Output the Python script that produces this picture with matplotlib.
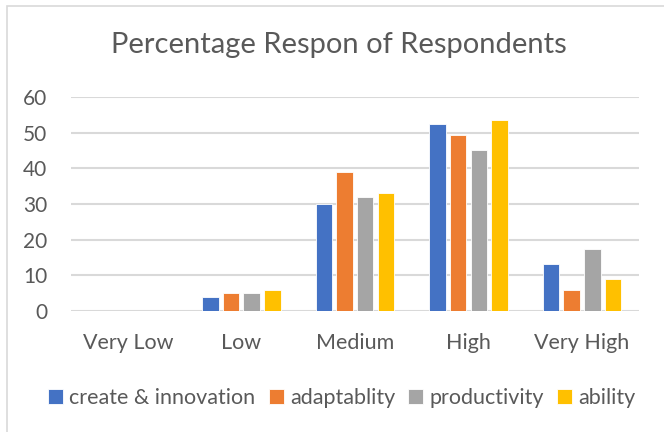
"""Grouped bar chart: percentage response of respondents."""

import matplotlib

matplotlib.use("Agg")
import matplotlib.pyplot as plt
import numpy as np
from matplotlib.patches import Rectangle

categories = ["Very Low", "Low", "Medium", "High", "Very High"]
series_names = ["create & innovation", "adaptablity", "productivity", "ability"]
create_innovation = [0, 4, 30, 52.5, 13.2]
adaptablity = [0, 5, 39, 49.3, 6]
productivity = [0, 5, 32, 45.2, 17.3]
ability = [0, 6, 33, 53.6, 9]
y_ticks = [0, 10, 20, 30, 40, 50, 60]

COLORS = ["#4472c4", "#ed7d31", "#a5a5a5", "#ffc000"]
TEXT = "#595959"

plt.rcParams["font.family"] = ["Lato", "DejaVu Sans"]

fig = plt.figure(figsize=(6.64, 4.32), dpi=100)
ax = fig.add_axes([0.107, 0.280, 0.855, 0.495])

# chart border (only left and top show in the crop)
fig.patches.append(
    Rectangle((7 / 664, -0.1), 1.2, 1 - 6 / 432 + 0.1, transform=fig.transFigure,
              fill=False, edgecolor="#d9d9d9", linewidth=1.2)
)

x = np.arange(len(categories))
step = 0.182
width = 0.145
series = [create_innovation, adaptablity, productivity, ability]
for i, (name, values, color) in enumerate(zip(series_names, series, COLORS)):
    ax.bar(x + (i - 1.5) * step, values, width=width, color=color, label=name,
           edgecolor="white", linewidth=0.6, zorder=3)

ax.set_xlim(-0.5, len(categories) - 0.5)
ax.set_ylim(0, 60)
ax.set_yticks(y_ticks)
ax.set_xticks(x)
ax.set_xticklabels(categories)
ax.grid(axis="y", color="#d9d9d9", linewidth=1.5, zorder=0)
ax.tick_params(axis="both", length=0, colors=TEXT)
ax.tick_params(axis="y", pad=17, labelsize=15)
ax.tick_params(axis="x", pad=16, labelsize=15.5)
for spine in ax.spines.values():
    spine.set_visible(False)

fig.text(0.51, 0.895, "Percentage Respon of Respondents", ha="center", va="center",
         fontsize=21, color=TEXT)

ax.legend(loc="center", bbox_to_anchor=(0.515, 0.078), bbox_transform=fig.transFigure,
          ncol=4, frameon=False, fontsize=15.5, labelcolor=TEXT,
          handlelength=0.7, handleheight=0.7, handletextpad=0.3, columnspacing=0.6)

fig.savefig("out.png", dpi=100)
